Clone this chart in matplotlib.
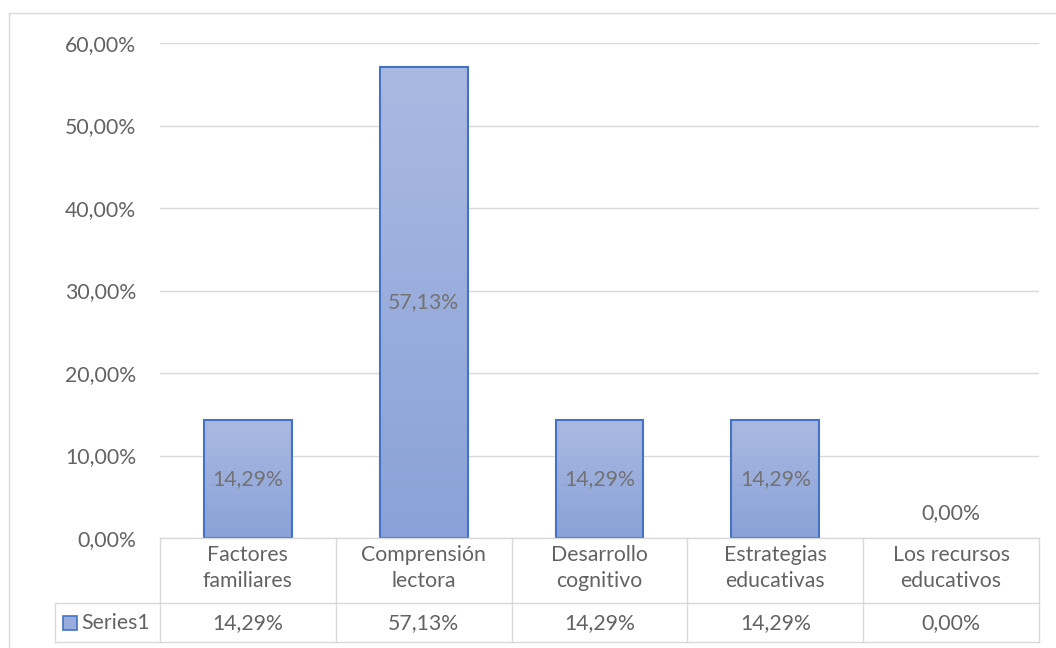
import numpy as np
import matplotlib
matplotlib.use('Agg')
import matplotlib.pyplot as plt
from matplotlib import colors, transforms
from matplotlib.lines import Line2D
from matplotlib.patches import Rectangle

categories = ['Factores\nfamiliares', 'Comprensión\nlectora', 'Desarrollo\ncognitivo',
              'Estrategias\neducativas', 'Los recursos\neducativos']
values = [0.1429, 0.5713, 0.1429, 0.1429, 0.0]
series_name = 'Series1'
y_ticks = [0.0, 0.1, 0.2, 0.3, 0.4, 0.5, 0.6]


def pct(v):
    return f'{v * 100:.2f}%'.replace('.', ',')


W, H = 1056, 648
TEXT = '#636363'
GRID = '#D9D9D9'
EDGE = '#4472C4'
plt.rcParams['font.family'] = ['Lato', 'DejaVu Sans']
plt.rcParams['font.size'] = 15.3


def fx(x):
    return x / W


def fy(y):
    return 1 - y / H


fig = plt.figure(figsize=(W / 100, H / 100), dpi=100)
ax = fig.add_axes([fx(160), fy(538), (1039 - 160) / W, (538 - 43) / H])

# bars with a vertical gradient fill; zero-height bars draw nothing
grad = colors.LinearSegmentedColormap.from_list('bar', ['#8AA2D9', '#AAB9E1'])
ramp = np.linspace(0, 1, 256).reshape(-1, 1)
n = len(values)
for i, v in enumerate(values):
    if v > 0:
        ax.imshow(ramp, cmap=grad, origin='lower', aspect='auto',
                  extent=[i - 0.25, i + 0.25, 0, v], zorder=2)
bars = ax.bar(range(n), values, width=0.5, facecolor='none', edgecolor=EDGE,
              linewidth=1.5, zorder=3)
for b, v in zip(bars, values):
    if v == 0:
        b.set_visible(False)

for i, v in enumerate(values):
    if v > 0:
        ax.text(i, v / 2, pct(v), ha='center', va='center', color='#737373', zorder=4)
    else:
        ax.annotate(pct(v), (i, 0), xytext=(0, 18), textcoords='offset points',
                    ha='center', va='center', color=TEXT)

ax.set_xlim(-0.5, n - 0.5)
ax.set_ylim(0, 0.6)
ax.set_yticks(y_ticks)
ax.set_yticklabels([pct(t) for t in y_ticks], color=TEXT)
ax.set_xticks([])
ax.tick_params(axis='y', length=0, pad=17)
ax.yaxis.grid(True, color=GRID, linewidth=1)
ax.set_axisbelow(True)
for s in ax.spines.values():
    s.set_visible(False)

# chart frame (top and left edges)
fig.add_artist(Line2D([fx(9), fx(9)], [fy(13), 0], color=GRID, lw=1))
fig.add_artist(Line2D([fx(9), 1], [fy(13), fy(13)], color=GRID, lw=1))

# data table under the plot
tr = transforms.blended_transform_factory(ax.transData, fig.transFigure)
x_right = n - 0.5
fig.add_artist(Line2D([-0.5, x_right], [fy(538), fy(538)], color=GRID, lw=1, transform=tr))
for yy in (603, 642):
    fig.add_artist(Line2D([fx(55), fx(1039)], [fy(yy), fy(yy)], color=GRID, lw=1))
fig.add_artist(Line2D([fx(55), fx(55)], [fy(603), fy(642)], color=GRID, lw=1))
for k in range(n + 1):
    xk = k - 0.5
    fig.add_artist(Line2D([xk, xk], [fy(538), fy(642)], color=GRID, lw=1, transform=tr))

for i, (c, v) in enumerate(zip(categories, values)):
    fig.text(i, fy(568), c, transform=tr, ha='center', va='center',
             color=TEXT, linespacing=1.4)
    fig.text(i, fy(623), pct(v), transform=tr, ha='center', va='center', color=TEXT)

fig.add_artist(Rectangle((fx(63), fy(630)), 14 / W, 14 / H, facecolor='#98ACDD',
                         edgecolor=EDGE, lw=1.2))
fig.text(fx(81), fy(623), series_name, ha='left', va='center', color=TEXT)

fig.savefig('out.png', dpi=100)
